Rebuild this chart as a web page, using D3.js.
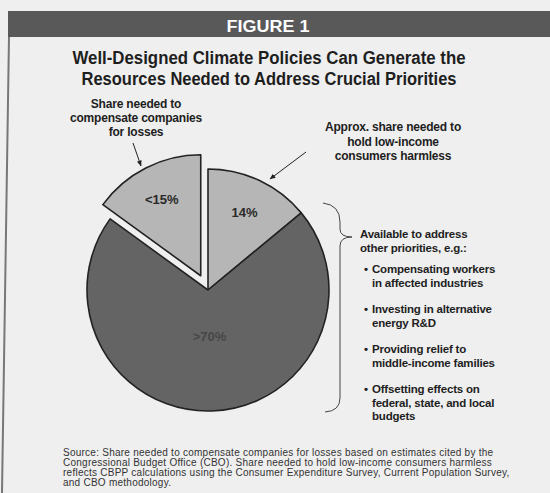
<!DOCTYPE html>
<html>
<head>
<meta charset="utf-8">
<script src="https://cdn.jsdelivr.net/npm/d3@7"></script>
<style>
	body { margin: 0; background: #efefef; }
	svg { display: block; }
	text { font-family: "Liberation Sans", Arial, sans-serif; fill: #1e1e1e; }
</style>
</head>
<body>
<div id="chart"></div>
<script>

// data
const sliceNames = ["Low-income consumers", "Other priorities", "Compensate companies"]
const sliceValues = [14, 71, 15]
const sliceLabels = ["14%", ">70%", "<15%"]
const explodedSlice = "Compensate companies"

const titleLines = ["Well-Designed Climate Policies Can Generate the", "Resources Needed to Address Crucial Priorities"]
const companyNote = ["Share needed to", "compensate companies", "for losses"]
const consumerNote = ["Approx. share needed to", "hold low-income", "consumers harmless"]
const priorityIntro = ["Available to address", "other priorities, e.g.:"]
const priorities = [
	["Compensating workers", "in affected industries"],
	["Investing in alternative", "energy R&D"],
	["Providing relief to", "middle-income families"],
	["Offsetting effects on", "federal, state, and local", "budgets"]
]
const sourceLines = [
	"Source: Share needed to compensate companies for losses based on estimates cited by the",
	"Congressional Budget Office (CBO).  Share needed to hold low-income consumers harmless",
	"reflects CBPP calculations using the Consumer Expenditure Survey, Current Population Survey,",
	"and CBO methodology."
]

const width = 550
const height = 493

const svg = d3.select("#chart").append("svg")
	.attr("width", width)
	.attr("height", height)

// arrow marker
svg.append("defs").append("marker")
	.attr("id", "arrow")
	.attr("viewBox", "0 0 10 10")
	.attr("refX", 9).attr("refY", 5)
	.attr("markerWidth", 6).attr("markerHeight", 6)
	.attr("orient", "auto")
	.append("path")
	.attr("d", "M0,1 L10,5 L0,9 z")
	.attr("fill", "#222")

svg.append("rect").attr("width", width).attr("height", height).attr("fill", "#efefef")

// frame + banner
svg.append("line")
	.attr("x1", 9).attr("y1", 36).attr("x2", 2).attr("y2", height)
	.attr("stroke", "#777").attr("stroke-width", 2)

svg.append("rect")
	.attr("x", 8).attr("y", 11).attr("width", width - 8).attr("height", 26)
	.attr("fill", "#595959")

svg.append("text")
	.attr("x", 268).attr("y", 32)
	.attr("text-anchor", "middle")
	.style("fill", "#fff")
	.style("font-size", "16px")
	.style("font-weight", "bold")
	.attr("textLength", 83).attr("lengthAdjust", "spacingAndGlyphs")
	.text("FIGURE 1")

// title
const titleWidths = [393, 375]
svg.selectAll("text.title")
	.data(titleLines)
	.join("text")
	.attr("class", "title")
	.attr("x", 269)
	.attr("y", (d, i) => 64 + i * 21)
	.attr("text-anchor", "middle")
	.style("font-size", "18px")
	.style("font-weight", "bold")
	.attr("textLength", (d, i) => titleWidths[i])
	.attr("lengthAdjust", "spacingAndGlyphs")
	.text(d => d)

// pie
const cx = 208
const cy = 290
const radius = 121
const explodeBy = 16

const slices = sliceNames.map((name, i) => ({ name, value: sliceValues[i], label: sliceLabels[i] }))
const pieData = d3.pie().value(d => d.value).sort(null).startAngle(0).endAngle(2 * Math.PI)(slices)
const arc = d3.arc().innerRadius(0).outerRadius(radius)
const largest = d3.max(sliceValues)

function offset(d) {
	if (d.data.name !== explodedSlice) return [0, 0]
	const mid = (d.startAngle + d.endAngle) / 2
	return [explodeBy * Math.sin(mid), -explodeBy * Math.cos(mid)]
}

const pieGroup = svg.append("g").attr("transform", `translate(${cx},${cy})`)

pieGroup.selectAll("path")
	.data(pieData)
	.join("path")
	.attr("transform", d => `translate(${offset(d)})`)
	.attr("d", arc)
	.attr("fill", d => d.value === largest ? "#646464" : "#b6b6b6")
	.attr("stroke", "#222")
	.attr("stroke-width", 1.6)
	.attr("stroke-linejoin", "round")

pieGroup.selectAll("text")
	.data(pieData)
	.join("text")
	.attr("transform", d => {
		const r = d.value === largest ? 46 : 86
		const [x, y] = d3.arc().innerRadius(r).outerRadius(r).centroid(d)
		const [ox, oy] = offset(d)
		return `translate(${x + ox},${y + oy})`
	})
	.attr("text-anchor", "middle")
	.attr("dy", "0.36em")
	.style("font-size", "13px")
	.style("font-weight", "bold")
	.style("fill", d => d.value === largest ? "#474747" : "#2a2a2a")
	.text(d => d.data.label)

// annotations
function multiline(lines, x, y, lineHeight, anchor, size) {
	svg.append("g").selectAll("text")
		.data(lines)
		.join("text")
		.attr("x", x)
		.attr("y", (d, i) => y + i * lineHeight)
		.attr("text-anchor", anchor)
		.style("font-size", size)
		.style("font-weight", "bold")
		.style("letter-spacing", "-0.2px")
		.text(d => d)
}

multiline(companyNote, 136, 108, 14, "middle", "12px")
multiline(consumerNote, 393, 131, 14.5, "middle", "12px")

svg.append("line")
	.attr("x1", 133).attr("y1", 143).attr("x2", 141).attr("y2", 166)
	.attr("stroke", "#222").attr("stroke-width", 1)
	.attr("marker-end", "url(#arrow)")

svg.append("line")
	.attr("x1", 306).attr("y1", 152).attr("x2", 270).attr("y2", 179)
	.attr("stroke", "#222").attr("stroke-width", 1)
	.attr("marker-end", "url(#arrow)")

// brace
svg.append("path")
	.attr("d", "M323,203 Q340,205 340,222 L340,229 Q340,237 352,237 Q340,237 340,246 L340,398 Q340,411 325,412")
	.attr("fill", "none")
	.attr("stroke", "#444")
	.attr("stroke-width", 1)

multiline(priorityIntro, 360, 238, 14, "start", "11.5px")

let lineY = 273
priorities.forEach(item => {
	svg.append("text")
		.attr("x", 364).attr("y", lineY)
		.style("font-size", "11.5px")
		.style("font-weight", "bold")
		.text("•")
	multiline(item, 372, lineY, 13.5, "start", "11.5px")
	lineY += item.length * 13.5 + 13
})

// source
svg.append("g").selectAll("text")
	.data(sourceLines)
	.join("text")
	.attr("x", 63)
	.attr("y", (d, i) => 456 + i * 10)
	.style("font-size", "10px")
	.style("letter-spacing", "0.25px")
	.style("fill", "#333")
	.text(d => d)

</script>
</body>
</html>
